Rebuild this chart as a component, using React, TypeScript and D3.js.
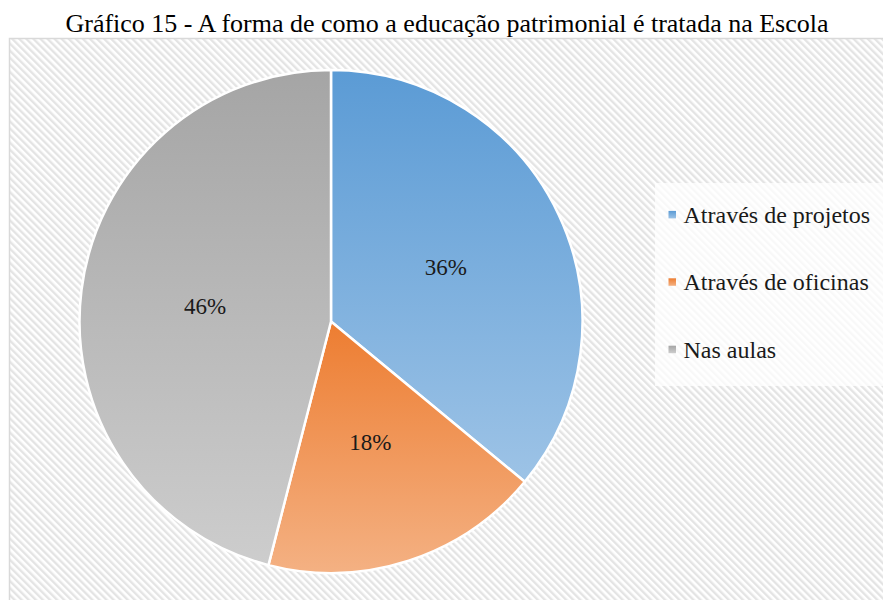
import React from 'react';
import * as d3 from 'd3';

const title = 'Gráfico 15 - A forma de como a educação patrimonial é tratada na Escola';
const categories = ['Através de projetos', 'Através de oficinas', 'Nas aulas'];
const values = [36, 18, 46];
const labels = ['36%', '18%', '46%'];
const colorsTop = ['#5b9bd5', '#ed7d31', '#a5a5a5'];
const colorsBottom = ['#9dc3e6', '#f4b183', '#cdcdcd'];

const FONT = "'Liberation Serif', 'Times New Roman', Tinos";

const width = 883;
const height = 600;
const cx = 331;
const cy = 321.5;
const r = 251.5;

const App = () => {
  const pie = d3.pie<number>().sort(null).value(d => d);
  const arcs = pie(values);
  const arc = d3.arc<d3.PieArcDatum<number>>().innerRadius(0).outerRadius(r);
  const labelArc = d3.arc<d3.PieArcDatum<number>>().innerRadius(r * 0.505).outerRadius(r * 0.505);

  return (
    <svg
      width={width}
      height={height}
      style={{ position: 'absolute', left: 0, top: 0, display: 'block' }}
    >
      <defs>
        {/* diagonal hatch background */}
        <pattern id="hatch" patternUnits="userSpaceOnUse" width={5} height={5} patternTransform="rotate(-45)">
          <rect width={5} height={5} fill="#ffffff" />
          <rect width={2.4} height={5} fill="#e4e4e4" />
        </pattern>
        {categories.map((c, i) => (
          <linearGradient key={c} id={`grad${i}`} x1={0} y1={0} x2={0} y2={1}>
            <stop offset="0%" stopColor={colorsTop[i]} />
            <stop offset="100%" stopColor={colorsBottom[i]} />
          </linearGradient>
        ))}
      </defs>

      <rect width={width} height={height} fill="#ffffff" />

      <text x={447} y={32} textAnchor="middle" fill="#000" style={{ fontFamily: FONT, fontSize: '26px' }}>
        {title}
      </text>

      {/* chart area */}
      <rect x={9.5} y={38.5} width={width} height={height} fill="url(#hatch)" stroke="#d9d9d9" strokeWidth={1.5} />

      <g transform={`translate(${cx},${cy})`}>
        {arcs.map((d, i) => (
          <path
            key={categories[i]}
            d={arc(d) || ''}
            fill={`url(#grad${i})`}
            stroke="#ffffff"
            strokeWidth={2.5}
            strokeLinejoin="round"
          />
        ))}
        {arcs.map((d, i) => {
          const [x, y] = labelArc.centroid(d);
          return (
            <text
              key={labels[i]}
              x={x}
              y={y}
              dy="0.35em"
              textAnchor="middle"
              fill="#1a1a1a"
              style={{ fontFamily: FONT, fontSize: '23px' }}
            >
              {labels[i]}
            </text>
          );
        })}
      </g>

      {/* legend */}
      <rect x={655} y={183} width={228} height={203} fill="#ffffff" opacity={0.75} />
      <g transform="translate(668.5,214.7)">
        {categories.map((c, i) => (
          <g key={c} transform={`translate(0,${i * 67.4})`}>
            <rect x={0} y={-3.8} width={7.5} height={7.5} fill={`url(#grad${i})`} />
            <text x={15} y={8} fill="#1a1a1a" style={{ fontFamily: FONT, fontSize: '24px' }}>
              {c}
            </text>
          </g>
        ))}
      </g>
    </svg>
  );
};

export default App;
